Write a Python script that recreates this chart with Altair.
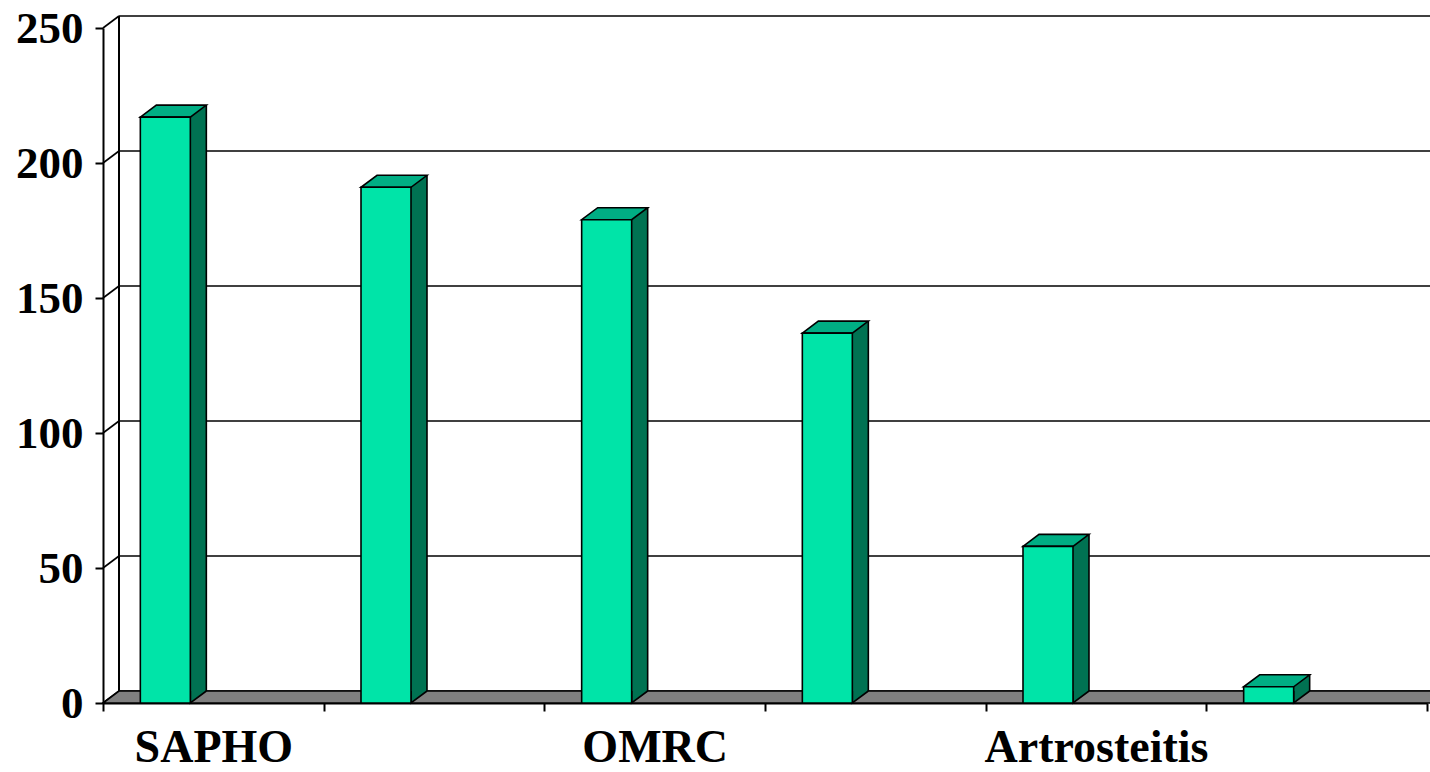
import altair as alt
import pandas as pd

# ---- data ----
categories = ["SAPHO", "(2)", "OMRC", "(4)", "Artrosteitis", "(6)"]
shown_labels = ["SAPHO", "OMRC", "Artrosteitis"]
values = [217, 191, 179, 137, 58, 6]
y_ticks = [0, 50, 100, 150, 200, 250]

# ---- layout / style ----
W, H = 1324, 675
DX, DY = 16, 12          # 3-D depth offset (px)
BAR_W = 50               # front face width (px)
BAR_LEFT = -73           # front-left edge relative to band centre (px)
FONT = "Liberation Serif"
FRONT = "#00E4A8"
TOP = "#00AE84"
SIDE = "#007252"
FLOOR = "#808080"
LW = 1.6

df = pd.DataFrame({"cat": categories, "val": values})
grid_df = pd.DataFrame({"v": y_ticks})

x_scale = alt.Scale(type="band", domain=categories, paddingInner=0, paddingOuter=0)
y_scale = alt.Scale(domain=[0, 250], nice=False, zero=True)

label_test = "indexof(" + str(shown_labels).replace("'", '"') + ", datum.value) >= 0 ? datum.label : ''"

x_axis = alt.Axis(
    title=None, labelAngle=0, labelExpr=label_test, tickBand="extent",
    domain=True, domainColor="black", domainWidth=2,
    ticks=True, tickColor="black", tickWidth=2, tickSize=8,
    labelFont=FONT, labelFontSize=46, labelFontWeight="bold", labelColor="black",
    labelBaseline="alphabetic", labelPadding=50, labelLimit=1000,
    labelOverlap=False, labelBound=False, grid=False,
)
y_axis = alt.Axis(
    title=None, values=y_ticks, grid=False,
    domain=True, domainColor="black", domainWidth=2,
    ticks=True, tickColor="black", tickWidth=2, tickSize=8,
    labelFont=FONT, labelFontSize=45, labelFontWeight="bold", labelColor="black",
    labelPadding=12,
)


def xN():
    return alt.X("cat:N", scale=x_scale, sort=categories, axis=x_axis)


def yQ(field):
    return alt.Y(field, scale=y_scale, axis=y_axis)


def yD(v):
    return alt.Y(datum=v, scale=y_scale, axis=y_axis)


# back wall gridlines
grid = alt.Chart(grid_df).mark_rule(color="black", strokeWidth=LW, yOffset=-DY).encode(
    x=alt.value(DX), x2=alt.value(W + 20), y=yQ("v:Q"),
)
# side-wall connectors
conn = alt.Chart(grid_df).mark_rule(color="black", strokeWidth=LW, y2Offset=-DY).encode(
    x=alt.value(0), x2=alt.value(DX), y=yQ("v:Q"), y2="v:Q",
)
# back wall left edge
backedge = alt.Chart(grid_df).mark_rule(color="black", strokeWidth=LW, yOffset=-DY, y2Offset=-DY).encode(
    x=alt.value(DX), y=yD(0), y2=alt.datum(250),
)
# floor
floor_shape = f"M0,0 L{W + 20},0 L{W + 20 + DX},{-DY} L{DX},{-DY} Z"
floor = alt.Chart(grid_df.head(1)).mark_point(
    shape=floor_shape, size=4, filled=True, fill=FLOOR, stroke="black",
    strokeWidth=LW, opacity=1,
).encode(x=alt.value(0), y=yD(0))

# side faces
side = alt.Chart(df).mark_bar(
    color=SIDE, size=DX, xOffset=BAR_LEFT + BAR_W + DX / 2, yOffset=-DY, y2Offset=-DY,
    strokeWidth=0,
).encode(x=xN(), y=yQ("val:Q"), y2=alt.datum(0))
side_edge = alt.Chart(df).mark_rule(
    color="black", strokeWidth=LW, xOffset=BAR_LEFT + BAR_W + DX, yOffset=-DY, y2Offset=-DY,
).encode(x=xN(), y=yQ("val:Q"), y2=alt.datum(0))
tri_shape = f"M{BAR_LEFT + BAR_W},{-DY} L{BAR_LEFT + BAR_W},0 L{BAR_LEFT + BAR_W + DX},{-DY}"
side_bottom = alt.Chart(df).mark_point(
    shape=tri_shape, size=4, filled=True, fill=SIDE, stroke="black", strokeWidth=LW, opacity=1,
).encode(x=xN(), y=yD(0))

# top faces
top_shape = (f"M{BAR_LEFT},0 L{BAR_LEFT + BAR_W},0 L{BAR_LEFT + BAR_W + DX},{-DY} "
             f"L{BAR_LEFT + DX},{-DY} Z")
top = alt.Chart(df).mark_point(
    shape=top_shape, size=4, filled=True, fill=TOP, stroke="black", strokeWidth=LW, opacity=1,
).encode(x=xN(), y=yQ("val:Q"))

# front faces
front = alt.Chart(df).mark_bar(
    color=FRONT, size=BAR_W, xOffset=BAR_LEFT + BAR_W / 2, stroke="black", strokeWidth=LW,
).encode(x=xN(), y=yQ("val:Q"))

chart = alt.layer(grid, conn, backedge, floor, side, side_bottom, side_edge, top, front).properties(
    width=W, height=H,
    autosize=alt.AutoSizeParams(type="none"),
    padding={"left": 103, "top": 28, "right": 3, "bottom": 69},
    background="white",
).configure_view(stroke=None, clip=False)

chart.save("out.html", embed_options={"renderer": "svg", "actions": False})
